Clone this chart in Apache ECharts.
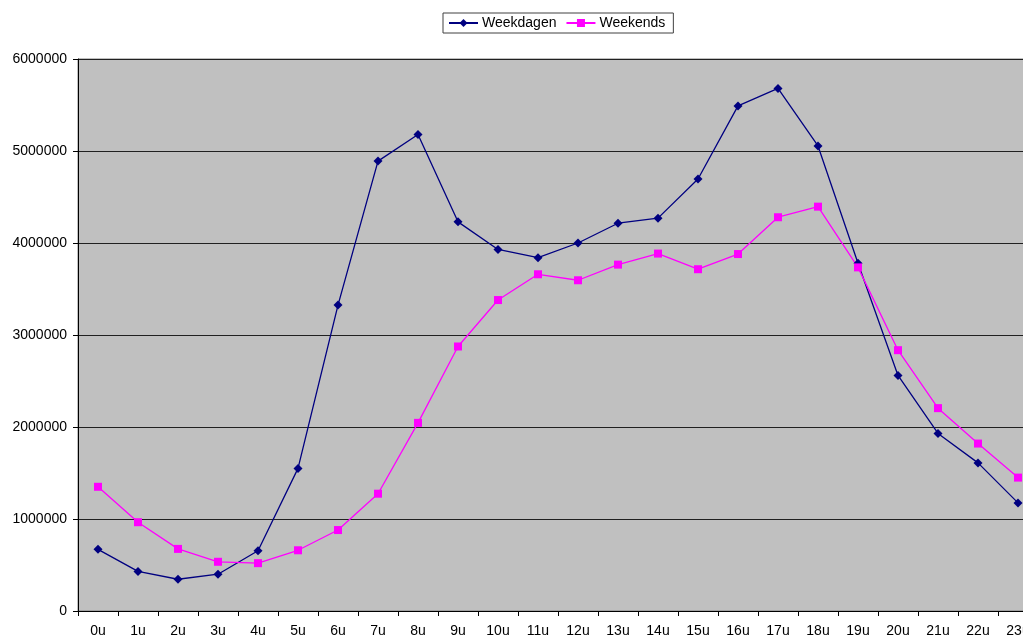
<!DOCTYPE html>
<html>
<head>
<meta charset="utf-8">
<script src="https://cdn.jsdelivr.net/npm/echarts@6/dist/echarts.min.js"></script>
<style>
  html, body { margin: 0; padding: 0; background: #fff; }
  #chart { width: 1023px; height: 639px; }
</style>
</head>
<body>
<div id="chart"></div>
<script>
// uren van de dag
var hours = ['0u','1u','2u','3u','4u','5u','6u','7u','8u','9u','10u','11u',
             '12u','13u','14u','15u','16u','17u','18u','19u','20u','21u','22u','23u'];

var weekdagen = [670000, 430000, 345000, 400000, 655000, 1550000, 3325000, 4890000,
                 5180000, 4230000, 3930000, 3840000, 4000000, 4215000, 4270000, 4695000,
                 5490000, 5680000, 5055000, 3780000, 2560000, 1930000, 1610000, 1175000];

var weekends = [1350000, 965000, 675000, 535000, 520000, 660000, 880000, 1275000,
                2045000, 2875000, 3380000, 3660000, 3595000, 3765000, 3885000, 3715000,
                3880000, 4280000, 4395000, 3735000, 2835000, 2205000, 1820000, 1450000];

var yTicks = { min: 0, max: 6000000, interval: 1000000 };

var chart = echarts.init(document.getElementById('chart'));
chart.setOption({
  animation: false,
  textStyle: { fontFamily: 'Liberation Sans, Arial, sans-serif' },
  legend: {
    left: 443,
    top: 13,
    itemGap: 9,
    itemWidth: 29,
    itemHeight: 10,
    padding: [3, 8, 3, 5],
    borderColor: '#404040',
    borderWidth: 1,
    textStyle: { color: '#000', fontSize: 14, padding: [0, 0, 0, -1] },
    data: ['Weekdagen', 'Weekends']
  },
  grid: {
    left: 78,
    top: 59,
    width: 960,
    bottom: 28,
    outerBoundsMode: 'none',
    containLabel: false,
    show: true,
    backgroundColor: '#c0c0c0',
    borderColor: '#808080',
    borderWidth: 1
  },
  xAxis: {
    type: 'category',
    data: hours,
    boundaryGap: true,
    axisLine: { lineStyle: { color: '#000', width: 1 } },
    axisTick: { show: true, length: 5, lineStyle: { color: '#000' } },
    axisLabel: { color: '#000', fontSize: 14, margin: 13, interval: 0 },
    splitLine: { show: false }
  },
  yAxis: {
    type: 'value',
    min: yTicks.min,
    max: yTicks.max,
    interval: yTicks.interval,
    axisLine: { show: true, lineStyle: { color: '#000', width: 1 } },
    axisTick: { show: true, length: 5, lineStyle: { color: '#000' } },
    axisLabel: {
      color: '#000',
      fontSize: 14,
      margin: 11,
      formatter: function (v) { return String(v); }
    },
    splitLine: { show: true, lineStyle: { color: '#202020', width: 1 } }
  },
  series: [
    {
      name: 'Weekdagen',
      type: 'line',
      data: weekdagen,
      symbol: 'diamond',
      symbolSize: 9,
      color: '#000080',
      lineStyle: { color: '#000080', width: 1.3 },
      itemStyle: { color: '#000080' }
    },
    {
      name: 'Weekends',
      type: 'line',
      data: weekends,
      symbol: 'rect',
      symbolSize: 8,
      color: '#ff00ff',
      lineStyle: { color: '#ff00ff', width: 1.3 },
      itemStyle: { color: '#ff00ff' }
    }
  ]
});
</script>
</body>
</html>
